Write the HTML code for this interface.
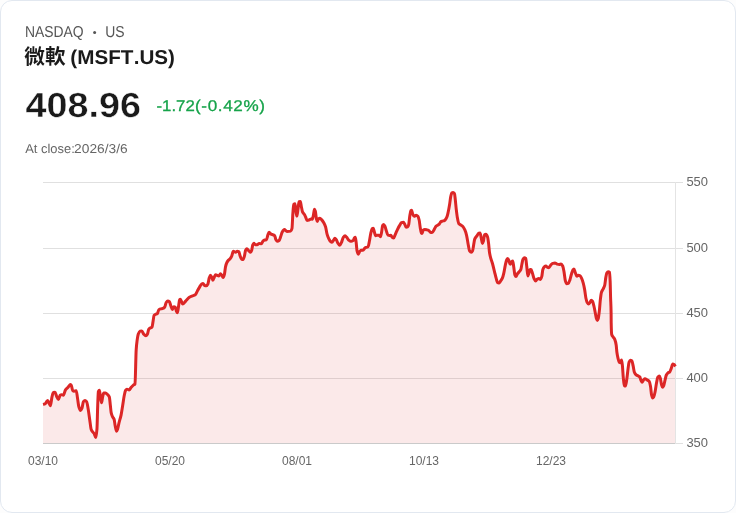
<!DOCTYPE html>
<html><head><meta charset="utf-8">
<style>
html,body{margin:0;padding:0;background:#fdfdfd;}
body{width:736px;height:513px;overflow:hidden;position:relative;font-family:"Liberation Sans",sans-serif;}
.wrap{position:absolute;left:0;top:0;width:736px;height:513px;will-change:transform;}
.card{position:absolute;left:0;top:0;width:734px;height:511px;border:1px solid #e2e8f0;border-radius:12px;background:#fff;}
text{font-family:"Liberation Sans",sans-serif;white-space:pre;}
.h text{text-rendering:geometricPrecision;}
svg{position:absolute;left:0;top:0;}
.ay{font-family:"Liberation Sans",sans-serif;font-size:12.3px;fill:#666;}
.ax{font-family:"Liberation Sans",sans-serif;font-size:12px;fill:#666;}
</style></head><body>
<div class="wrap">
<div class="card"></div>
<svg width="736" height="513" viewBox="0 0 736 513">
<text x="24.3" y="63.7" style="font-family:'Liberation Sans','Noto Sans CJK TC',sans-serif;font-size:20.6px;font-weight:bold;fill:#1a1a1a;">微軟</text>
<g class="h"><text id="t1" transform="translate(24.88,37) scale(0.8816,1)" style="font-size:15.77px;fill:#555;">NASDAQ</text>
<text id="t1c" transform="translate(105.20,37) scale(0.8842,1)" style="font-size:15.77px;fill:#555;">US</text>
<text id="t2" transform="translate(70.33,64) scale(1.0332,1)" style="font-size:19.99px;fill:#1a1a1a;font-weight:bold;">(MSFT</text>
<text id="t2b" transform="translate(133.69,64) scale(1.0326,1)" style="font-size:19.99px;fill:#1a1a1a;font-weight:bold;">.US)</text>
<text id="t3" transform="translate(25.52,117) scale(1.0841,1)" style="font-size:34.80px;fill:#1a1a1a;font-weight:bold;stroke:#fff;stroke-width:0.4px;">408.96</text>
<text id="t4" transform="translate(156.47,111) scale(1.0840,1)" style="font-size:15.50px;fill:#16a34a;stroke:#16a34a;stroke-width:0.3px;">-1.72</text>
<text id="t4b" transform="translate(194.94,111) scale(1.1015,1)" style="font-size:15.50px;fill:#16a34a;letter-spacing:0.6px;stroke:#16a34a;stroke-width:0.3px;">(-0.42%)</text>
<text id="t5" transform="translate(25.21,153) scale(1.0060,1)" style="font-size:12.86px;fill:#666;">At close:</text>
<text id="t5b" transform="translate(74.09,153) scale(1.0692,1)" style="font-size:12.86px;fill:#666;">2026/3/6</text>
</g><circle cx="94.65" cy="32.4" r="1.5" fill="#555"/>
<line x1="43.0" x2="683" y1="182.5" y2="182.5" stroke="#e0e0e0" stroke-width="1"/><line x1="43.0" x2="683" y1="248.5" y2="248.5" stroke="#e0e0e0" stroke-width="1"/><line x1="43.0" x2="683" y1="313.5" y2="313.5" stroke="#e0e0e0" stroke-width="1"/><line x1="43.0" x2="683" y1="378.5" y2="378.5" stroke="#e0e0e0" stroke-width="1"/>
<path d="M43.00,404.36 C43.68,404.22 44.36,404.19 45.04,403.93 C45.50,403.75 45.97,402.59 46.43,402.00 C46.86,401.46 47.28,400.50 47.71,400.50 C48.18,400.50 48.64,402.38 49.11,403.29 C49.54,404.12 49.96,405.75 50.39,405.75 C50.93,405.75 51.46,398.97 52.00,396.86 C52.46,395.04 52.93,392.69 53.39,392.57 C53.93,392.43 54.46,392.36 55.00,392.36 C55.54,392.36 56.07,395.21 56.61,396.32 C57.22,397.57 57.82,399.54 58.43,399.54 C59.00,399.54 59.57,395.65 60.14,395.25 C60.57,394.95 61.00,394.71 61.43,394.71 C62.07,394.71 62.72,395.25 63.36,395.25 C64.07,395.25 64.79,390.95 65.50,389.89 C66.36,388.61 67.21,388.12 68.07,387.21 C68.89,386.34 69.72,384.54 70.54,384.54 C70.82,384.54 71.11,385.09 71.39,385.61 C71.82,386.39 72.25,389.97 72.68,390.43 C73.14,390.93 73.61,391.29 74.07,391.29 C74.78,391.29 75.50,390.64 76.21,390.64 C76.64,390.64 77.07,395.30 77.50,397.93 C77.93,400.56 78.36,404.96 78.79,406.50 C79.36,408.54 79.93,410.57 80.50,410.57 C81.00,410.57 81.50,409.33 82.00,408.11 C82.46,406.98 82.93,402.23 83.39,401.68 C83.93,401.04 84.46,400.61 85.00,400.61 C85.54,400.61 86.07,401.05 86.61,401.68 C87.14,402.30 87.68,406.19 88.21,409.18 C88.75,412.19 89.28,416.80 89.82,420.43 C90.28,423.56 90.75,428.32 91.21,429.54 C91.64,430.67 92.07,431.10 92.50,431.68 C93.04,432.41 93.57,432.66 94.11,433.50 C94.64,434.34 95.18,437.57 95.71,437.57 C96.13,437.57 96.54,433.96 96.96,429.00 C97.21,426.03 97.46,411.77 97.71,405.43 C97.93,399.93 98.14,392.03 98.36,391.50 C98.72,390.62 99.07,390.21 99.43,390.21 C99.75,390.21 100.07,394.99 100.39,396.86 C100.78,399.15 101.18,402.75 101.57,402.75 C101.93,402.75 102.28,398.39 102.64,396.86 C103.00,395.33 103.35,393.11 103.71,393.11 C104.32,393.11 104.93,393.11 105.54,393.11 C106.25,393.11 106.97,394.02 107.68,394.71 C108.22,395.23 108.75,395.57 109.29,396.86 C109.65,397.72 110.00,402.43 110.36,405.43 C110.64,407.81 110.93,411.65 111.21,412.93 C111.64,414.88 112.07,415.76 112.50,416.68 C113.04,417.83 113.57,417.91 114.11,419.36 C114.47,420.33 114.82,424.10 115.18,425.79 C115.64,427.99 116.11,431.14 116.57,431.14 C116.93,431.14 117.28,429.98 117.64,429.00 C118.07,427.82 118.50,424.90 118.93,423.11 C119.64,420.15 120.36,418.40 121.07,415.07 C121.61,412.57 122.14,408.73 122.68,405.43 C123.22,402.13 123.75,397.76 124.29,395.25 C124.72,393.26 125.14,391.07 125.57,390.43 C126.03,389.73 126.50,389.14 126.96,389.14 C127.68,389.14 128.39,389.89 129.11,389.89 C129.82,389.89 130.54,388.00 131.25,387.21 C131.96,386.42 132.68,385.63 133.39,385.07 C133.93,384.65 134.46,384.73 135.00,384.00 C135.39,383.46 135.79,355.80 136.18,349.96 C136.47,345.70 136.75,343.16 137.04,341.07 C137.47,337.97 137.89,335.32 138.32,334.11 C138.86,332.59 139.39,331.23 139.93,331.11 C140.57,330.97 141.22,330.89 141.86,330.89 C142.47,330.89 143.07,333.47 143.68,334.11 C144.39,334.87 145.11,335.71 145.82,335.71 C146.36,335.71 146.89,334.97 147.43,334.11 C147.86,333.42 148.28,329.93 148.71,329.29 C149.18,328.59 149.64,328.29 150.11,328.00 C150.75,327.61 151.40,327.73 152.04,327.14 C152.36,326.85 152.68,323.64 153.00,321.79 C153.36,319.73 153.71,315.86 154.07,315.36 C154.53,314.71 155.00,314.49 155.46,314.29 C156.07,314.02 156.68,314.09 157.29,313.75 C157.75,313.49 158.22,310.46 158.68,310.00 C159.29,309.40 159.89,309.13 160.50,308.93 C161.32,308.66 162.14,308.68 162.96,308.39 C163.57,308.18 164.18,307.77 164.79,307.00 C165.25,306.41 165.72,303.22 166.18,302.50 C166.72,301.67 167.25,300.89 167.79,300.89 C168.32,300.89 168.86,301.20 169.39,301.64 C169.86,302.02 170.32,304.45 170.79,305.71 C171.29,307.06 171.79,309.46 172.29,309.46 C172.82,309.46 173.36,306.79 173.89,306.79 C174.36,306.79 174.82,306.99 175.29,307.32 C175.65,307.57 176.00,310.32 176.36,311.07 C176.72,311.82 177.07,312.68 177.43,312.68 C177.79,312.68 178.14,308.92 178.50,306.79 C178.86,304.66 179.21,300.21 179.57,299.82 C179.86,299.51 180.14,299.29 180.43,299.29 C180.86,299.29 181.28,301.03 181.71,301.96 C182.02,302.64 182.33,304.07 182.64,304.07 C183.64,304.07 184.64,302.07 185.64,301.07 C186.89,299.82 188.14,298.11 189.39,297.32 C190.28,296.75 191.18,296.41 192.07,296.04 C193.14,295.59 194.22,295.55 195.29,294.86 C196.00,294.40 196.72,292.18 197.43,290.89 C198.14,289.60 198.86,288.29 199.57,287.14 C200.28,285.99 201.00,284.38 201.71,283.93 C202.14,283.66 202.57,283.39 203.00,283.39 C203.57,283.39 204.14,285.34 204.71,285.54 C205.21,285.72 205.71,285.86 206.21,285.86 C206.78,285.86 207.36,285.00 207.93,283.93 C208.36,283.14 208.78,279.33 209.21,278.04 C209.64,276.74 210.07,275.14 210.50,275.14 C210.96,275.14 211.43,276.55 211.89,277.50 C212.25,278.23 212.60,280.18 212.96,280.18 C213.43,280.18 213.89,277.86 214.36,276.96 C214.79,276.14 215.21,274.82 215.64,274.82 C216.18,274.82 216.71,275.18 217.25,275.36 C217.79,275.54 218.32,275.89 218.86,275.89 C219.39,275.89 219.93,273.75 220.46,273.75 C220.93,273.75 221.39,274.72 221.86,275.36 C222.29,275.94 222.71,277.50 223.14,277.50 C223.57,277.50 224.00,275.89 224.43,274.29 C224.79,272.96 225.14,268.34 225.50,266.79 C225.96,264.77 226.43,263.43 226.89,262.50 C227.43,261.42 227.96,260.72 228.50,260.14 C229.04,259.56 229.57,259.36 230.11,258.75 C230.64,258.14 231.18,257.22 231.71,256.07 C232.24,254.93 232.76,251.25 233.29,251.25 C234.07,251.25 234.86,252.32 235.64,252.32 C236.18,252.32 236.71,251.25 237.25,251.25 C237.79,251.25 238.32,251.36 238.86,251.57 C239.29,251.74 239.71,254.93 240.14,256.07 C240.61,257.32 241.07,258.84 241.54,259.07 C242.07,259.33 242.61,259.50 243.14,259.50 C243.57,259.50 244.00,257.57 244.43,256.07 C244.82,254.70 245.22,250.89 245.61,250.18 C246.04,249.41 246.46,248.79 246.89,248.79 C247.50,248.79 248.10,250.14 248.71,250.71 C249.35,251.31 250.00,252.32 250.64,252.32 C251.00,252.32 251.35,251.20 251.71,250.18 C252.07,249.15 252.43,245.65 252.79,244.82 C253.15,244.00 253.50,243.21 253.86,243.21 C254.39,243.21 254.93,244.82 255.46,244.82 C256.00,244.82 256.53,244.82 257.07,244.82 C257.78,244.82 258.50,243.43 259.21,243.43 C259.93,243.43 260.64,243.75 261.36,243.75 C261.89,243.75 262.43,241.58 262.96,241.07 C263.50,240.56 264.03,240.10 264.57,240.00 C265.21,239.88 265.86,239.93 266.50,239.79 C266.93,239.69 267.36,236.37 267.79,235.18 C268.22,234.00 268.64,232.29 269.07,232.29 C269.71,232.29 270.36,233.78 271.00,234.11 C271.71,234.48 272.43,234.56 273.14,234.86 C273.68,235.09 274.21,235.19 274.75,235.71 C275.11,236.05 275.46,238.83 275.82,239.46 C276.36,240.41 276.89,241.29 277.43,241.29 C277.97,241.29 278.50,240.96 279.04,240.54 C279.57,240.13 280.11,238.19 280.64,236.79 C281.18,235.38 281.71,232.95 282.25,231.96 C282.79,230.97 283.32,230.31 283.86,229.82 C284.00,229.69 284.15,229.50 284.29,229.50 C285.18,229.50 286.07,231.43 286.96,231.43 C288.21,231.43 289.46,231.35 290.71,231.11 C291.14,231.03 291.57,230.11 292.00,228.43 C292.29,227.31 292.57,217.23 292.86,213.43 C293.14,209.67 293.43,204.56 293.71,204.32 C294.14,203.96 294.57,203.79 295.00,203.79 C295.36,203.79 295.71,210.37 296.07,212.36 C296.36,213.96 296.64,216.11 296.93,216.11 C297.29,216.11 297.64,211.55 298.00,209.14 C298.36,206.73 298.71,201.76 299.07,201.64 C299.50,201.50 299.93,201.43 300.36,201.43 C300.72,201.43 301.07,205.28 301.43,207.00 C301.79,208.72 302.14,211.02 302.50,211.82 C303.14,213.26 303.79,213.41 304.43,214.50 C304.86,215.22 305.28,216.21 305.71,217.18 C306.14,218.16 306.57,220.39 307.00,220.39 C307.64,220.39 308.29,220.23 308.93,220.07 C309.64,219.89 310.36,219.00 311.07,219.00 C311.50,219.00 311.93,219.32 312.36,219.32 C312.72,219.32 313.07,216.67 313.43,215.04 C313.79,213.41 314.14,209.36 314.50,209.36 C314.79,209.36 315.07,210.33 315.36,211.29 C315.72,212.48 316.07,217.28 316.43,218.79 C316.72,220.01 317.00,221.46 317.29,221.46 C317.72,221.46 318.14,219.09 318.57,218.79 C319.00,218.49 319.43,218.25 319.86,218.25 C320.50,218.25 321.15,219.17 321.79,219.86 C322.50,220.62 323.22,221.75 323.93,223.07 C324.47,224.06 325.00,225.15 325.54,226.82 C326.07,228.48 326.61,232.51 327.14,234.32 C327.68,236.14 328.21,237.51 328.75,238.61 C329.29,239.71 329.82,240.86 330.36,241.29 C330.89,241.72 331.43,242.14 331.96,242.14 C332.50,242.14 333.03,240.93 333.57,240.21 C334.00,239.64 334.43,238.29 334.86,238.29 C335.32,238.29 335.79,239.06 336.25,239.68 C336.81,240.43 337.37,242.36 337.93,243.21 C338.54,244.13 339.14,245.36 339.75,245.36 C340.29,245.36 340.82,243.79 341.36,242.68 C342.00,241.35 342.65,238.18 343.29,237.32 C343.90,236.51 344.50,235.71 345.11,235.71 C345.64,235.71 346.18,236.70 346.71,237.32 C347.35,238.07 348.00,239.49 348.64,240.00 C349.43,240.63 350.21,241.29 351.00,241.29 C351.71,241.29 352.43,240.99 353.14,240.54 C353.57,240.27 354.00,238.26 354.43,237.86 C354.72,237.59 355.00,237.32 355.29,237.32 C355.57,237.32 355.86,240.09 356.14,242.14 C356.43,244.21 356.71,249.46 357.00,250.71 C357.43,252.59 357.86,254.14 358.29,254.14 C358.79,254.14 359.29,251.73 359.79,251.25 C360.36,250.71 360.93,250.18 361.50,250.18 C362.00,250.18 362.50,250.18 363.00,250.18 C363.64,250.18 364.29,248.46 364.93,248.04 C365.47,247.69 366.00,247.52 366.54,247.29 C367.07,247.06 367.61,247.05 368.14,246.64 C368.57,246.31 369.00,243.19 369.43,241.07 C369.89,238.78 370.36,234.90 370.82,233.04 C371.28,231.18 371.75,229.14 372.21,228.75 C372.57,228.45 372.93,228.21 373.29,228.21 C373.65,228.21 374.00,230.82 374.36,231.96 C374.79,233.33 375.21,235.71 375.64,235.71 C376.18,235.71 376.71,235.18 377.25,235.18 C377.79,235.18 378.32,235.18 378.86,235.18 C379.39,235.18 379.93,236.79 380.46,236.79 C380.82,236.79 381.18,234.28 381.54,232.50 C381.90,230.74 382.25,226.16 382.61,225.54 C382.97,224.92 383.32,224.46 383.68,224.46 C384.14,224.46 384.61,225.63 385.07,226.61 C385.50,227.52 385.93,229.61 386.36,230.89 C386.89,232.48 387.43,234.98 387.96,235.18 C388.50,235.38 389.03,235.50 389.57,235.50 C390.00,235.50 390.43,235.18 390.86,235.18 C391.32,235.18 391.79,236.95 392.25,237.32 C392.71,237.69 393.18,238.07 393.64,238.07 C394.03,238.07 394.43,236.40 394.82,235.54 C395.53,233.98 396.25,232.22 396.96,230.71 C397.85,228.81 398.75,226.81 399.64,225.36 C400.28,224.32 400.93,222.99 401.57,222.68 C402.18,222.39 402.78,222.14 403.39,222.14 C403.86,222.14 404.32,223.42 404.79,224.29 C405.22,225.08 405.64,227.29 406.07,227.29 C406.61,227.29 407.14,227.18 407.68,226.96 C408.04,226.82 408.39,225.65 408.75,224.29 C409.11,222.93 409.46,217.85 409.82,215.71 C410.18,213.57 410.53,210.92 410.89,210.57 C411.14,210.33 411.39,210.14 411.64,210.14 C412.00,210.14 412.35,213.32 412.71,214.11 C413.18,215.14 413.64,216.25 414.11,216.25 C414.82,216.25 415.54,215.18 416.25,215.18 C416.79,215.18 417.32,215.65 417.86,216.25 C418.29,216.72 418.71,218.22 419.14,220.00 C419.50,221.49 419.85,225.43 420.21,227.50 C420.57,229.59 420.93,232.47 421.29,232.86 C421.57,233.16 421.86,233.39 422.14,233.39 C422.50,233.39 422.85,230.48 423.21,230.18 C423.75,229.72 424.28,229.43 424.82,229.43 C425.53,229.43 426.25,229.68 426.96,229.86 C427.57,230.02 428.18,230.18 428.79,230.50 C429.43,230.84 430.07,232.54 430.71,232.54 C431.25,232.54 431.78,232.45 432.32,232.32 C432.93,232.17 433.53,230.62 434.14,229.64 C434.78,228.60 435.43,226.82 436.07,226.21 C436.61,225.70 437.14,225.50 437.68,225.14 C438.22,224.78 438.75,224.57 439.29,224.07 C439.82,223.57 440.36,221.90 440.89,221.61 C441.43,221.31 441.96,221.23 442.50,221.07 C443.14,220.88 443.79,220.83 444.43,220.54 C444.93,220.32 445.43,219.67 445.93,218.93 C446.39,218.25 446.86,217.12 447.32,215.71 C447.56,214.98 447.80,213.88 448.04,212.79 C448.57,210.37 449.11,207.48 449.64,204.21 C450.00,202.02 450.35,198.37 450.71,196.71 C451.07,195.04 451.43,193.23 451.79,192.96 C452.22,192.64 452.64,192.43 453.07,192.43 C453.53,192.43 454.00,192.81 454.46,193.50 C454.75,193.93 455.03,197.49 455.32,199.93 C455.64,202.68 455.97,206.80 456.29,209.57 C456.65,212.63 457.00,215.65 457.36,217.61 C457.82,220.15 458.29,222.88 458.75,223.50 C459.46,224.46 460.18,224.58 460.89,225.11 C461.61,225.65 462.32,225.95 463.04,226.71 C463.65,227.35 464.25,228.55 464.86,229.93 C465.43,231.22 466.00,232.99 466.57,235.29 C467.14,237.60 467.72,242.11 468.29,245.00 C468.72,247.15 469.14,250.28 469.57,250.89 C470.14,251.71 470.72,252.29 471.29,252.29 C471.72,252.29 472.14,251.68 472.57,250.89 C472.93,250.23 473.28,246.96 473.64,245.00 C474.00,243.04 474.35,240.01 474.71,239.11 C475.43,237.31 476.14,236.92 476.86,235.89 C477.50,234.96 478.15,233.39 478.79,233.21 C479.22,233.09 479.64,233.00 480.07,233.00 C480.50,233.00 480.93,236.67 481.36,238.57 C481.72,240.14 482.07,243.39 482.43,243.39 C482.79,243.39 483.14,241.94 483.50,240.71 C483.86,239.48 484.21,235.08 484.57,234.82 C485.03,234.48 485.50,234.29 485.96,234.29 C486.50,234.29 487.03,235.48 487.57,236.96 C487.93,237.94 488.28,241.10 488.64,243.93 C488.93,246.21 489.21,250.66 489.50,252.50 C489.93,255.26 490.36,256.82 490.79,258.39 C491.32,260.34 491.86,261.39 492.39,263.21 C493.11,265.65 493.82,268.92 494.54,271.79 C495.07,273.92 495.61,276.28 496.14,278.21 C496.57,279.77 497.00,282.20 497.43,282.50 C497.89,282.83 498.36,283.04 498.82,283.04 C499.36,283.04 499.89,281.91 500.43,281.21 C501.07,280.37 501.72,279.63 502.36,278.21 C502.86,277.11 503.36,275.01 503.86,272.86 C504.32,270.87 504.79,267.44 505.25,265.36 C505.71,263.28 506.18,260.98 506.64,260.00 C507.00,259.24 507.35,258.39 507.71,258.39 C508.14,258.39 508.57,260.09 509.00,261.07 C509.43,262.05 509.86,264.29 510.29,264.29 C510.75,264.29 511.22,261.97 511.68,261.61 C512.04,261.33 512.39,261.07 512.75,261.07 C513.11,261.07 513.46,265.19 513.82,267.50 C514.18,269.81 514.53,274.12 514.89,275.00 C515.25,275.88 515.60,276.61 515.96,276.61 C516.43,276.61 516.89,274.62 517.36,273.93 C517.97,273.04 518.57,272.55 519.18,271.79 C519.72,271.12 520.25,270.82 520.79,269.64 C521.15,268.86 521.50,265.98 521.86,264.29 C522.22,262.60 522.57,260.23 522.93,259.46 C523.36,258.54 523.78,257.68 524.21,257.68 C524.71,257.68 525.21,257.94 525.71,258.43 C526.07,258.79 526.43,263.87 526.79,266.79 C527.15,269.68 527.50,275.89 527.86,275.89 C528.22,275.89 528.57,274.25 528.93,273.21 C529.29,272.17 529.64,269.46 530.00,269.46 C530.36,269.46 530.71,269.46 531.07,269.46 C531.53,269.46 532.00,271.83 532.46,273.21 C533.00,274.81 533.53,277.48 534.07,278.57 C534.61,279.66 535.14,280.93 535.68,280.93 C536.22,280.93 536.75,279.39 537.29,279.11 C537.82,278.83 538.36,278.57 538.89,278.57 C539.43,278.57 539.96,279.43 540.50,279.43 C540.93,279.43 541.36,277.93 541.79,276.43 C542.15,275.19 542.50,270.54 542.86,269.46 C543.32,268.05 543.79,267.18 544.25,266.79 C544.79,266.34 545.32,265.93 545.86,265.93 C546.39,265.93 546.93,267.13 547.46,267.32 C547.93,267.49 548.39,267.64 548.86,267.64 C549.47,267.64 550.07,265.82 550.68,265.18 C551.39,264.43 552.11,263.54 552.82,263.36 C553.53,263.18 554.25,263.04 554.96,263.04 C555.68,263.04 556.39,263.95 557.11,264.11 C557.82,264.27 558.54,264.43 559.25,264.43 C559.86,264.43 560.46,264.11 561.07,264.11 C561.64,264.11 562.22,265.09 562.79,266.25 C563.22,267.11 563.64,269.82 564.07,272.14 C564.50,274.48 564.93,279.30 565.36,280.71 C565.82,282.23 566.29,283.71 566.75,283.71 C567.29,283.71 567.82,283.59 568.36,283.39 C568.89,283.19 569.43,281.16 569.96,279.64 C570.50,278.11 571.03,275.48 571.57,273.75 C572.00,272.36 572.43,270.63 572.86,270.00 C573.22,269.48 573.57,268.93 573.93,268.93 C574.39,268.93 574.86,271.51 575.32,272.68 C575.82,273.95 576.32,276.25 576.82,276.25 C577.36,276.25 577.89,275.18 578.43,275.18 C578.97,275.18 579.50,275.41 580.04,275.71 C580.57,276.00 581.11,277.24 581.64,278.39 C582.18,279.54 582.71,281.25 583.25,283.21 C583.71,284.90 584.18,287.11 584.64,289.64 C585.07,291.99 585.50,296.29 585.93,298.21 C586.36,300.11 586.78,301.76 587.21,302.50 C587.68,303.31 588.14,304.11 588.61,304.11 C589.07,304.11 589.54,303.16 590.00,302.50 C590.43,301.89 590.86,300.14 591.29,300.14 C591.72,300.14 592.14,300.77 592.57,301.43 C593.03,302.15 593.50,304.36 593.96,306.25 C594.43,308.16 594.89,310.88 595.36,313.21 C595.72,314.99 596.07,317.52 596.43,318.57 C596.73,319.46 597.04,320.50 597.34,320.50 C597.64,320.50 597.95,319.54 598.25,318.57 C598.61,317.43 598.96,314.12 599.32,311.07 C599.68,308.02 600.03,302.21 600.39,299.29 C600.75,296.37 601.10,293.45 601.46,292.32 C602.00,290.62 602.53,290.26 603.07,289.11 C603.61,287.96 604.14,287.30 604.68,285.36 C605.04,284.07 605.39,279.82 605.75,277.86 C606.11,275.90 606.46,273.64 606.82,273.04 C607.28,272.26 607.75,271.64 608.21,271.64 C608.64,271.64 609.07,271.82 609.50,272.29 C609.71,272.52 609.93,276.65 610.14,281.07 C610.28,284.04 610.43,292.37 610.57,297.14 C610.75,303.13 610.93,302.69 611.11,313.21 C611.13,314.57 611.16,321.62 611.18,322.71 C611.36,330.98 611.53,333.86 611.71,334.50 C612.25,336.44 612.78,336.29 613.32,337.18 C613.86,338.07 614.39,338.56 614.93,339.86 C615.36,340.89 615.78,342.54 616.21,345.21 C616.43,346.57 616.64,350.40 616.86,352.00 C617.22,354.64 617.57,356.39 617.93,357.89 C618.36,359.68 618.78,361.87 619.21,362.18 C619.64,362.50 620.07,362.71 620.50,362.71 C620.86,362.71 621.21,360.04 621.57,360.04 C621.86,360.04 622.14,363.31 622.43,365.93 C622.72,368.55 623.00,374.90 623.29,377.71 C623.65,381.21 624.00,385.54 624.36,385.75 C624.72,385.96 625.07,386.07 625.43,386.07 C625.86,386.07 626.28,382.47 626.71,379.86 C627.14,377.23 627.57,372.27 628.00,369.14 C628.36,366.55 628.71,362.98 629.07,362.18 C629.53,361.14 630.00,360.36 630.46,360.36 C630.93,360.36 631.39,360.52 631.86,360.79 C632.29,361.04 632.71,364.03 633.14,365.93 C633.57,367.84 634.00,371.39 634.43,372.36 C635.07,373.81 635.72,374.56 636.36,375.04 C637.07,375.57 637.79,375.72 638.50,376.11 C638.93,376.34 639.36,376.43 639.79,376.86 C640.15,377.21 640.50,379.33 640.86,380.07 C641.32,381.03 641.79,382.21 642.25,382.21 C642.71,382.21 643.18,380.37 643.64,379.86 C644.07,379.38 644.50,378.79 644.93,378.79 C645.64,378.79 646.36,379.43 647.07,379.86 C647.78,380.29 648.50,380.52 649.21,381.46 C649.64,382.03 650.07,384.07 650.50,386.29 C650.86,388.13 651.21,393.30 651.57,394.86 C651.93,396.42 652.28,398.07 652.64,398.07 C653.00,398.07 653.35,397.55 653.71,397.00 C654.18,396.28 654.64,393.85 655.11,391.64 C655.57,389.45 656.04,385.50 656.50,383.07 C656.93,380.82 657.36,377.70 657.79,377.18 C658.32,376.54 658.86,376.11 659.39,376.11 C659.75,376.11 660.10,377.57 660.46,378.79 C660.82,380.03 661.18,383.44 661.54,384.68 C661.90,385.90 662.25,387.36 662.61,387.36 C662.97,387.36 663.32,386.53 663.68,385.75 C664.14,384.74 664.61,381.70 665.07,379.86 C665.50,378.15 665.93,375.90 666.36,375.04 C666.89,373.97 667.43,373.33 667.96,372.89 C668.57,372.39 669.18,372.41 669.79,371.82 C670.25,371.38 670.72,369.79 671.18,368.61 C671.72,367.24 672.25,364.00 672.79,364.00 C673.22,364.00 673.64,364.27 674.07,364.54 C674.53,364.83 675.00,365.75 675.46,366.36 L675.5,443.5 L43.0,443.5 Z" fill="#dc2626" fill-opacity="0.1"/>
<line x1="43.0" x2="675.5" y1="443.5" y2="443.5" stroke="#cacaca" stroke-width="1"/>
<line x1="675.5" x2="683" y1="443.5" y2="443.5" stroke="#e0e0e0" stroke-width="1"/>
<line x1="675.5" x2="675.5" y1="182" y2="444" stroke="#e4e4e4" stroke-width="1"/>
<path d="M43.00,404.36 C43.68,404.22 44.36,404.19 45.04,403.93 C45.50,403.75 45.97,402.59 46.43,402.00 C46.86,401.46 47.28,400.50 47.71,400.50 C48.18,400.50 48.64,402.38 49.11,403.29 C49.54,404.12 49.96,405.75 50.39,405.75 C50.93,405.75 51.46,398.97 52.00,396.86 C52.46,395.04 52.93,392.69 53.39,392.57 C53.93,392.43 54.46,392.36 55.00,392.36 C55.54,392.36 56.07,395.21 56.61,396.32 C57.22,397.57 57.82,399.54 58.43,399.54 C59.00,399.54 59.57,395.65 60.14,395.25 C60.57,394.95 61.00,394.71 61.43,394.71 C62.07,394.71 62.72,395.25 63.36,395.25 C64.07,395.25 64.79,390.95 65.50,389.89 C66.36,388.61 67.21,388.12 68.07,387.21 C68.89,386.34 69.72,384.54 70.54,384.54 C70.82,384.54 71.11,385.09 71.39,385.61 C71.82,386.39 72.25,389.97 72.68,390.43 C73.14,390.93 73.61,391.29 74.07,391.29 C74.78,391.29 75.50,390.64 76.21,390.64 C76.64,390.64 77.07,395.30 77.50,397.93 C77.93,400.56 78.36,404.96 78.79,406.50 C79.36,408.54 79.93,410.57 80.50,410.57 C81.00,410.57 81.50,409.33 82.00,408.11 C82.46,406.98 82.93,402.23 83.39,401.68 C83.93,401.04 84.46,400.61 85.00,400.61 C85.54,400.61 86.07,401.05 86.61,401.68 C87.14,402.30 87.68,406.19 88.21,409.18 C88.75,412.19 89.28,416.80 89.82,420.43 C90.28,423.56 90.75,428.32 91.21,429.54 C91.64,430.67 92.07,431.10 92.50,431.68 C93.04,432.41 93.57,432.66 94.11,433.50 C94.64,434.34 95.18,437.57 95.71,437.57 C96.13,437.57 96.54,433.96 96.96,429.00 C97.21,426.03 97.46,411.77 97.71,405.43 C97.93,399.93 98.14,392.03 98.36,391.50 C98.72,390.62 99.07,390.21 99.43,390.21 C99.75,390.21 100.07,394.99 100.39,396.86 C100.78,399.15 101.18,402.75 101.57,402.75 C101.93,402.75 102.28,398.39 102.64,396.86 C103.00,395.33 103.35,393.11 103.71,393.11 C104.32,393.11 104.93,393.11 105.54,393.11 C106.25,393.11 106.97,394.02 107.68,394.71 C108.22,395.23 108.75,395.57 109.29,396.86 C109.65,397.72 110.00,402.43 110.36,405.43 C110.64,407.81 110.93,411.65 111.21,412.93 C111.64,414.88 112.07,415.76 112.50,416.68 C113.04,417.83 113.57,417.91 114.11,419.36 C114.47,420.33 114.82,424.10 115.18,425.79 C115.64,427.99 116.11,431.14 116.57,431.14 C116.93,431.14 117.28,429.98 117.64,429.00 C118.07,427.82 118.50,424.90 118.93,423.11 C119.64,420.15 120.36,418.40 121.07,415.07 C121.61,412.57 122.14,408.73 122.68,405.43 C123.22,402.13 123.75,397.76 124.29,395.25 C124.72,393.26 125.14,391.07 125.57,390.43 C126.03,389.73 126.50,389.14 126.96,389.14 C127.68,389.14 128.39,389.89 129.11,389.89 C129.82,389.89 130.54,388.00 131.25,387.21 C131.96,386.42 132.68,385.63 133.39,385.07 C133.93,384.65 134.46,384.73 135.00,384.00 C135.39,383.46 135.79,355.80 136.18,349.96 C136.47,345.70 136.75,343.16 137.04,341.07 C137.47,337.97 137.89,335.32 138.32,334.11 C138.86,332.59 139.39,331.23 139.93,331.11 C140.57,330.97 141.22,330.89 141.86,330.89 C142.47,330.89 143.07,333.47 143.68,334.11 C144.39,334.87 145.11,335.71 145.82,335.71 C146.36,335.71 146.89,334.97 147.43,334.11 C147.86,333.42 148.28,329.93 148.71,329.29 C149.18,328.59 149.64,328.29 150.11,328.00 C150.75,327.61 151.40,327.73 152.04,327.14 C152.36,326.85 152.68,323.64 153.00,321.79 C153.36,319.73 153.71,315.86 154.07,315.36 C154.53,314.71 155.00,314.49 155.46,314.29 C156.07,314.02 156.68,314.09 157.29,313.75 C157.75,313.49 158.22,310.46 158.68,310.00 C159.29,309.40 159.89,309.13 160.50,308.93 C161.32,308.66 162.14,308.68 162.96,308.39 C163.57,308.18 164.18,307.77 164.79,307.00 C165.25,306.41 165.72,303.22 166.18,302.50 C166.72,301.67 167.25,300.89 167.79,300.89 C168.32,300.89 168.86,301.20 169.39,301.64 C169.86,302.02 170.32,304.45 170.79,305.71 C171.29,307.06 171.79,309.46 172.29,309.46 C172.82,309.46 173.36,306.79 173.89,306.79 C174.36,306.79 174.82,306.99 175.29,307.32 C175.65,307.57 176.00,310.32 176.36,311.07 C176.72,311.82 177.07,312.68 177.43,312.68 C177.79,312.68 178.14,308.92 178.50,306.79 C178.86,304.66 179.21,300.21 179.57,299.82 C179.86,299.51 180.14,299.29 180.43,299.29 C180.86,299.29 181.28,301.03 181.71,301.96 C182.02,302.64 182.33,304.07 182.64,304.07 C183.64,304.07 184.64,302.07 185.64,301.07 C186.89,299.82 188.14,298.11 189.39,297.32 C190.28,296.75 191.18,296.41 192.07,296.04 C193.14,295.59 194.22,295.55 195.29,294.86 C196.00,294.40 196.72,292.18 197.43,290.89 C198.14,289.60 198.86,288.29 199.57,287.14 C200.28,285.99 201.00,284.38 201.71,283.93 C202.14,283.66 202.57,283.39 203.00,283.39 C203.57,283.39 204.14,285.34 204.71,285.54 C205.21,285.72 205.71,285.86 206.21,285.86 C206.78,285.86 207.36,285.00 207.93,283.93 C208.36,283.14 208.78,279.33 209.21,278.04 C209.64,276.74 210.07,275.14 210.50,275.14 C210.96,275.14 211.43,276.55 211.89,277.50 C212.25,278.23 212.60,280.18 212.96,280.18 C213.43,280.18 213.89,277.86 214.36,276.96 C214.79,276.14 215.21,274.82 215.64,274.82 C216.18,274.82 216.71,275.18 217.25,275.36 C217.79,275.54 218.32,275.89 218.86,275.89 C219.39,275.89 219.93,273.75 220.46,273.75 C220.93,273.75 221.39,274.72 221.86,275.36 C222.29,275.94 222.71,277.50 223.14,277.50 C223.57,277.50 224.00,275.89 224.43,274.29 C224.79,272.96 225.14,268.34 225.50,266.79 C225.96,264.77 226.43,263.43 226.89,262.50 C227.43,261.42 227.96,260.72 228.50,260.14 C229.04,259.56 229.57,259.36 230.11,258.75 C230.64,258.14 231.18,257.22 231.71,256.07 C232.24,254.93 232.76,251.25 233.29,251.25 C234.07,251.25 234.86,252.32 235.64,252.32 C236.18,252.32 236.71,251.25 237.25,251.25 C237.79,251.25 238.32,251.36 238.86,251.57 C239.29,251.74 239.71,254.93 240.14,256.07 C240.61,257.32 241.07,258.84 241.54,259.07 C242.07,259.33 242.61,259.50 243.14,259.50 C243.57,259.50 244.00,257.57 244.43,256.07 C244.82,254.70 245.22,250.89 245.61,250.18 C246.04,249.41 246.46,248.79 246.89,248.79 C247.50,248.79 248.10,250.14 248.71,250.71 C249.35,251.31 250.00,252.32 250.64,252.32 C251.00,252.32 251.35,251.20 251.71,250.18 C252.07,249.15 252.43,245.65 252.79,244.82 C253.15,244.00 253.50,243.21 253.86,243.21 C254.39,243.21 254.93,244.82 255.46,244.82 C256.00,244.82 256.53,244.82 257.07,244.82 C257.78,244.82 258.50,243.43 259.21,243.43 C259.93,243.43 260.64,243.75 261.36,243.75 C261.89,243.75 262.43,241.58 262.96,241.07 C263.50,240.56 264.03,240.10 264.57,240.00 C265.21,239.88 265.86,239.93 266.50,239.79 C266.93,239.69 267.36,236.37 267.79,235.18 C268.22,234.00 268.64,232.29 269.07,232.29 C269.71,232.29 270.36,233.78 271.00,234.11 C271.71,234.48 272.43,234.56 273.14,234.86 C273.68,235.09 274.21,235.19 274.75,235.71 C275.11,236.05 275.46,238.83 275.82,239.46 C276.36,240.41 276.89,241.29 277.43,241.29 C277.97,241.29 278.50,240.96 279.04,240.54 C279.57,240.13 280.11,238.19 280.64,236.79 C281.18,235.38 281.71,232.95 282.25,231.96 C282.79,230.97 283.32,230.31 283.86,229.82 C284.00,229.69 284.15,229.50 284.29,229.50 C285.18,229.50 286.07,231.43 286.96,231.43 C288.21,231.43 289.46,231.35 290.71,231.11 C291.14,231.03 291.57,230.11 292.00,228.43 C292.29,227.31 292.57,217.23 292.86,213.43 C293.14,209.67 293.43,204.56 293.71,204.32 C294.14,203.96 294.57,203.79 295.00,203.79 C295.36,203.79 295.71,210.37 296.07,212.36 C296.36,213.96 296.64,216.11 296.93,216.11 C297.29,216.11 297.64,211.55 298.00,209.14 C298.36,206.73 298.71,201.76 299.07,201.64 C299.50,201.50 299.93,201.43 300.36,201.43 C300.72,201.43 301.07,205.28 301.43,207.00 C301.79,208.72 302.14,211.02 302.50,211.82 C303.14,213.26 303.79,213.41 304.43,214.50 C304.86,215.22 305.28,216.21 305.71,217.18 C306.14,218.16 306.57,220.39 307.00,220.39 C307.64,220.39 308.29,220.23 308.93,220.07 C309.64,219.89 310.36,219.00 311.07,219.00 C311.50,219.00 311.93,219.32 312.36,219.32 C312.72,219.32 313.07,216.67 313.43,215.04 C313.79,213.41 314.14,209.36 314.50,209.36 C314.79,209.36 315.07,210.33 315.36,211.29 C315.72,212.48 316.07,217.28 316.43,218.79 C316.72,220.01 317.00,221.46 317.29,221.46 C317.72,221.46 318.14,219.09 318.57,218.79 C319.00,218.49 319.43,218.25 319.86,218.25 C320.50,218.25 321.15,219.17 321.79,219.86 C322.50,220.62 323.22,221.75 323.93,223.07 C324.47,224.06 325.00,225.15 325.54,226.82 C326.07,228.48 326.61,232.51 327.14,234.32 C327.68,236.14 328.21,237.51 328.75,238.61 C329.29,239.71 329.82,240.86 330.36,241.29 C330.89,241.72 331.43,242.14 331.96,242.14 C332.50,242.14 333.03,240.93 333.57,240.21 C334.00,239.64 334.43,238.29 334.86,238.29 C335.32,238.29 335.79,239.06 336.25,239.68 C336.81,240.43 337.37,242.36 337.93,243.21 C338.54,244.13 339.14,245.36 339.75,245.36 C340.29,245.36 340.82,243.79 341.36,242.68 C342.00,241.35 342.65,238.18 343.29,237.32 C343.90,236.51 344.50,235.71 345.11,235.71 C345.64,235.71 346.18,236.70 346.71,237.32 C347.35,238.07 348.00,239.49 348.64,240.00 C349.43,240.63 350.21,241.29 351.00,241.29 C351.71,241.29 352.43,240.99 353.14,240.54 C353.57,240.27 354.00,238.26 354.43,237.86 C354.72,237.59 355.00,237.32 355.29,237.32 C355.57,237.32 355.86,240.09 356.14,242.14 C356.43,244.21 356.71,249.46 357.00,250.71 C357.43,252.59 357.86,254.14 358.29,254.14 C358.79,254.14 359.29,251.73 359.79,251.25 C360.36,250.71 360.93,250.18 361.50,250.18 C362.00,250.18 362.50,250.18 363.00,250.18 C363.64,250.18 364.29,248.46 364.93,248.04 C365.47,247.69 366.00,247.52 366.54,247.29 C367.07,247.06 367.61,247.05 368.14,246.64 C368.57,246.31 369.00,243.19 369.43,241.07 C369.89,238.78 370.36,234.90 370.82,233.04 C371.28,231.18 371.75,229.14 372.21,228.75 C372.57,228.45 372.93,228.21 373.29,228.21 C373.65,228.21 374.00,230.82 374.36,231.96 C374.79,233.33 375.21,235.71 375.64,235.71 C376.18,235.71 376.71,235.18 377.25,235.18 C377.79,235.18 378.32,235.18 378.86,235.18 C379.39,235.18 379.93,236.79 380.46,236.79 C380.82,236.79 381.18,234.28 381.54,232.50 C381.90,230.74 382.25,226.16 382.61,225.54 C382.97,224.92 383.32,224.46 383.68,224.46 C384.14,224.46 384.61,225.63 385.07,226.61 C385.50,227.52 385.93,229.61 386.36,230.89 C386.89,232.48 387.43,234.98 387.96,235.18 C388.50,235.38 389.03,235.50 389.57,235.50 C390.00,235.50 390.43,235.18 390.86,235.18 C391.32,235.18 391.79,236.95 392.25,237.32 C392.71,237.69 393.18,238.07 393.64,238.07 C394.03,238.07 394.43,236.40 394.82,235.54 C395.53,233.98 396.25,232.22 396.96,230.71 C397.85,228.81 398.75,226.81 399.64,225.36 C400.28,224.32 400.93,222.99 401.57,222.68 C402.18,222.39 402.78,222.14 403.39,222.14 C403.86,222.14 404.32,223.42 404.79,224.29 C405.22,225.08 405.64,227.29 406.07,227.29 C406.61,227.29 407.14,227.18 407.68,226.96 C408.04,226.82 408.39,225.65 408.75,224.29 C409.11,222.93 409.46,217.85 409.82,215.71 C410.18,213.57 410.53,210.92 410.89,210.57 C411.14,210.33 411.39,210.14 411.64,210.14 C412.00,210.14 412.35,213.32 412.71,214.11 C413.18,215.14 413.64,216.25 414.11,216.25 C414.82,216.25 415.54,215.18 416.25,215.18 C416.79,215.18 417.32,215.65 417.86,216.25 C418.29,216.72 418.71,218.22 419.14,220.00 C419.50,221.49 419.85,225.43 420.21,227.50 C420.57,229.59 420.93,232.47 421.29,232.86 C421.57,233.16 421.86,233.39 422.14,233.39 C422.50,233.39 422.85,230.48 423.21,230.18 C423.75,229.72 424.28,229.43 424.82,229.43 C425.53,229.43 426.25,229.68 426.96,229.86 C427.57,230.02 428.18,230.18 428.79,230.50 C429.43,230.84 430.07,232.54 430.71,232.54 C431.25,232.54 431.78,232.45 432.32,232.32 C432.93,232.17 433.53,230.62 434.14,229.64 C434.78,228.60 435.43,226.82 436.07,226.21 C436.61,225.70 437.14,225.50 437.68,225.14 C438.22,224.78 438.75,224.57 439.29,224.07 C439.82,223.57 440.36,221.90 440.89,221.61 C441.43,221.31 441.96,221.23 442.50,221.07 C443.14,220.88 443.79,220.83 444.43,220.54 C444.93,220.32 445.43,219.67 445.93,218.93 C446.39,218.25 446.86,217.12 447.32,215.71 C447.56,214.98 447.80,213.88 448.04,212.79 C448.57,210.37 449.11,207.48 449.64,204.21 C450.00,202.02 450.35,198.37 450.71,196.71 C451.07,195.04 451.43,193.23 451.79,192.96 C452.22,192.64 452.64,192.43 453.07,192.43 C453.53,192.43 454.00,192.81 454.46,193.50 C454.75,193.93 455.03,197.49 455.32,199.93 C455.64,202.68 455.97,206.80 456.29,209.57 C456.65,212.63 457.00,215.65 457.36,217.61 C457.82,220.15 458.29,222.88 458.75,223.50 C459.46,224.46 460.18,224.58 460.89,225.11 C461.61,225.65 462.32,225.95 463.04,226.71 C463.65,227.35 464.25,228.55 464.86,229.93 C465.43,231.22 466.00,232.99 466.57,235.29 C467.14,237.60 467.72,242.11 468.29,245.00 C468.72,247.15 469.14,250.28 469.57,250.89 C470.14,251.71 470.72,252.29 471.29,252.29 C471.72,252.29 472.14,251.68 472.57,250.89 C472.93,250.23 473.28,246.96 473.64,245.00 C474.00,243.04 474.35,240.01 474.71,239.11 C475.43,237.31 476.14,236.92 476.86,235.89 C477.50,234.96 478.15,233.39 478.79,233.21 C479.22,233.09 479.64,233.00 480.07,233.00 C480.50,233.00 480.93,236.67 481.36,238.57 C481.72,240.14 482.07,243.39 482.43,243.39 C482.79,243.39 483.14,241.94 483.50,240.71 C483.86,239.48 484.21,235.08 484.57,234.82 C485.03,234.48 485.50,234.29 485.96,234.29 C486.50,234.29 487.03,235.48 487.57,236.96 C487.93,237.94 488.28,241.10 488.64,243.93 C488.93,246.21 489.21,250.66 489.50,252.50 C489.93,255.26 490.36,256.82 490.79,258.39 C491.32,260.34 491.86,261.39 492.39,263.21 C493.11,265.65 493.82,268.92 494.54,271.79 C495.07,273.92 495.61,276.28 496.14,278.21 C496.57,279.77 497.00,282.20 497.43,282.50 C497.89,282.83 498.36,283.04 498.82,283.04 C499.36,283.04 499.89,281.91 500.43,281.21 C501.07,280.37 501.72,279.63 502.36,278.21 C502.86,277.11 503.36,275.01 503.86,272.86 C504.32,270.87 504.79,267.44 505.25,265.36 C505.71,263.28 506.18,260.98 506.64,260.00 C507.00,259.24 507.35,258.39 507.71,258.39 C508.14,258.39 508.57,260.09 509.00,261.07 C509.43,262.05 509.86,264.29 510.29,264.29 C510.75,264.29 511.22,261.97 511.68,261.61 C512.04,261.33 512.39,261.07 512.75,261.07 C513.11,261.07 513.46,265.19 513.82,267.50 C514.18,269.81 514.53,274.12 514.89,275.00 C515.25,275.88 515.60,276.61 515.96,276.61 C516.43,276.61 516.89,274.62 517.36,273.93 C517.97,273.04 518.57,272.55 519.18,271.79 C519.72,271.12 520.25,270.82 520.79,269.64 C521.15,268.86 521.50,265.98 521.86,264.29 C522.22,262.60 522.57,260.23 522.93,259.46 C523.36,258.54 523.78,257.68 524.21,257.68 C524.71,257.68 525.21,257.94 525.71,258.43 C526.07,258.79 526.43,263.87 526.79,266.79 C527.15,269.68 527.50,275.89 527.86,275.89 C528.22,275.89 528.57,274.25 528.93,273.21 C529.29,272.17 529.64,269.46 530.00,269.46 C530.36,269.46 530.71,269.46 531.07,269.46 C531.53,269.46 532.00,271.83 532.46,273.21 C533.00,274.81 533.53,277.48 534.07,278.57 C534.61,279.66 535.14,280.93 535.68,280.93 C536.22,280.93 536.75,279.39 537.29,279.11 C537.82,278.83 538.36,278.57 538.89,278.57 C539.43,278.57 539.96,279.43 540.50,279.43 C540.93,279.43 541.36,277.93 541.79,276.43 C542.15,275.19 542.50,270.54 542.86,269.46 C543.32,268.05 543.79,267.18 544.25,266.79 C544.79,266.34 545.32,265.93 545.86,265.93 C546.39,265.93 546.93,267.13 547.46,267.32 C547.93,267.49 548.39,267.64 548.86,267.64 C549.47,267.64 550.07,265.82 550.68,265.18 C551.39,264.43 552.11,263.54 552.82,263.36 C553.53,263.18 554.25,263.04 554.96,263.04 C555.68,263.04 556.39,263.95 557.11,264.11 C557.82,264.27 558.54,264.43 559.25,264.43 C559.86,264.43 560.46,264.11 561.07,264.11 C561.64,264.11 562.22,265.09 562.79,266.25 C563.22,267.11 563.64,269.82 564.07,272.14 C564.50,274.48 564.93,279.30 565.36,280.71 C565.82,282.23 566.29,283.71 566.75,283.71 C567.29,283.71 567.82,283.59 568.36,283.39 C568.89,283.19 569.43,281.16 569.96,279.64 C570.50,278.11 571.03,275.48 571.57,273.75 C572.00,272.36 572.43,270.63 572.86,270.00 C573.22,269.48 573.57,268.93 573.93,268.93 C574.39,268.93 574.86,271.51 575.32,272.68 C575.82,273.95 576.32,276.25 576.82,276.25 C577.36,276.25 577.89,275.18 578.43,275.18 C578.97,275.18 579.50,275.41 580.04,275.71 C580.57,276.00 581.11,277.24 581.64,278.39 C582.18,279.54 582.71,281.25 583.25,283.21 C583.71,284.90 584.18,287.11 584.64,289.64 C585.07,291.99 585.50,296.29 585.93,298.21 C586.36,300.11 586.78,301.76 587.21,302.50 C587.68,303.31 588.14,304.11 588.61,304.11 C589.07,304.11 589.54,303.16 590.00,302.50 C590.43,301.89 590.86,300.14 591.29,300.14 C591.72,300.14 592.14,300.77 592.57,301.43 C593.03,302.15 593.50,304.36 593.96,306.25 C594.43,308.16 594.89,310.88 595.36,313.21 C595.72,314.99 596.07,317.52 596.43,318.57 C596.73,319.46 597.04,320.50 597.34,320.50 C597.64,320.50 597.95,319.54 598.25,318.57 C598.61,317.43 598.96,314.12 599.32,311.07 C599.68,308.02 600.03,302.21 600.39,299.29 C600.75,296.37 601.10,293.45 601.46,292.32 C602.00,290.62 602.53,290.26 603.07,289.11 C603.61,287.96 604.14,287.30 604.68,285.36 C605.04,284.07 605.39,279.82 605.75,277.86 C606.11,275.90 606.46,273.64 606.82,273.04 C607.28,272.26 607.75,271.64 608.21,271.64 C608.64,271.64 609.07,271.82 609.50,272.29 C609.71,272.52 609.93,276.65 610.14,281.07 C610.28,284.04 610.43,292.37 610.57,297.14 C610.75,303.13 610.93,302.69 611.11,313.21 C611.13,314.57 611.16,321.62 611.18,322.71 C611.36,330.98 611.53,333.86 611.71,334.50 C612.25,336.44 612.78,336.29 613.32,337.18 C613.86,338.07 614.39,338.56 614.93,339.86 C615.36,340.89 615.78,342.54 616.21,345.21 C616.43,346.57 616.64,350.40 616.86,352.00 C617.22,354.64 617.57,356.39 617.93,357.89 C618.36,359.68 618.78,361.87 619.21,362.18 C619.64,362.50 620.07,362.71 620.50,362.71 C620.86,362.71 621.21,360.04 621.57,360.04 C621.86,360.04 622.14,363.31 622.43,365.93 C622.72,368.55 623.00,374.90 623.29,377.71 C623.65,381.21 624.00,385.54 624.36,385.75 C624.72,385.96 625.07,386.07 625.43,386.07 C625.86,386.07 626.28,382.47 626.71,379.86 C627.14,377.23 627.57,372.27 628.00,369.14 C628.36,366.55 628.71,362.98 629.07,362.18 C629.53,361.14 630.00,360.36 630.46,360.36 C630.93,360.36 631.39,360.52 631.86,360.79 C632.29,361.04 632.71,364.03 633.14,365.93 C633.57,367.84 634.00,371.39 634.43,372.36 C635.07,373.81 635.72,374.56 636.36,375.04 C637.07,375.57 637.79,375.72 638.50,376.11 C638.93,376.34 639.36,376.43 639.79,376.86 C640.15,377.21 640.50,379.33 640.86,380.07 C641.32,381.03 641.79,382.21 642.25,382.21 C642.71,382.21 643.18,380.37 643.64,379.86 C644.07,379.38 644.50,378.79 644.93,378.79 C645.64,378.79 646.36,379.43 647.07,379.86 C647.78,380.29 648.50,380.52 649.21,381.46 C649.64,382.03 650.07,384.07 650.50,386.29 C650.86,388.13 651.21,393.30 651.57,394.86 C651.93,396.42 652.28,398.07 652.64,398.07 C653.00,398.07 653.35,397.55 653.71,397.00 C654.18,396.28 654.64,393.85 655.11,391.64 C655.57,389.45 656.04,385.50 656.50,383.07 C656.93,380.82 657.36,377.70 657.79,377.18 C658.32,376.54 658.86,376.11 659.39,376.11 C659.75,376.11 660.10,377.57 660.46,378.79 C660.82,380.03 661.18,383.44 661.54,384.68 C661.90,385.90 662.25,387.36 662.61,387.36 C662.97,387.36 663.32,386.53 663.68,385.75 C664.14,384.74 664.61,381.70 665.07,379.86 C665.50,378.15 665.93,375.90 666.36,375.04 C666.89,373.97 667.43,373.33 667.96,372.89 C668.57,372.39 669.18,372.41 669.79,371.82 C670.25,371.38 670.72,369.79 671.18,368.61 C671.72,367.24 672.25,364.00 672.79,364.00 C673.22,364.00 673.64,364.27 674.07,364.54 C674.53,364.83 675.00,365.75 675.46,366.36" fill="none" stroke="#dc2626" stroke-width="3" stroke-linejoin="round" stroke-linecap="butt"/>
<text transform="translate(686.4,186.10) scale(1.057,1)" class="ay">550</text><text transform="translate(686.4,252.10) scale(1.057,1)" class="ay">500</text><text transform="translate(686.4,317.10) scale(1.057,1)" class="ay">450</text><text transform="translate(686.4,382.10) scale(1.057,1)" class="ay">400</text><text transform="translate(686.4,447.10) scale(1.057,1)" class="ay">350</text>
<text x="43" y="465.3" text-anchor="middle" class="ax">03/10</text><text x="170" y="465.3" text-anchor="middle" class="ax">05/20</text><text x="297" y="465.3" text-anchor="middle" class="ax">08/01</text><text x="424" y="465.3" text-anchor="middle" class="ax">10/13</text><text x="551" y="465.3" text-anchor="middle" class="ax">12/23</text>
</svg>
</div>
</body></html>
